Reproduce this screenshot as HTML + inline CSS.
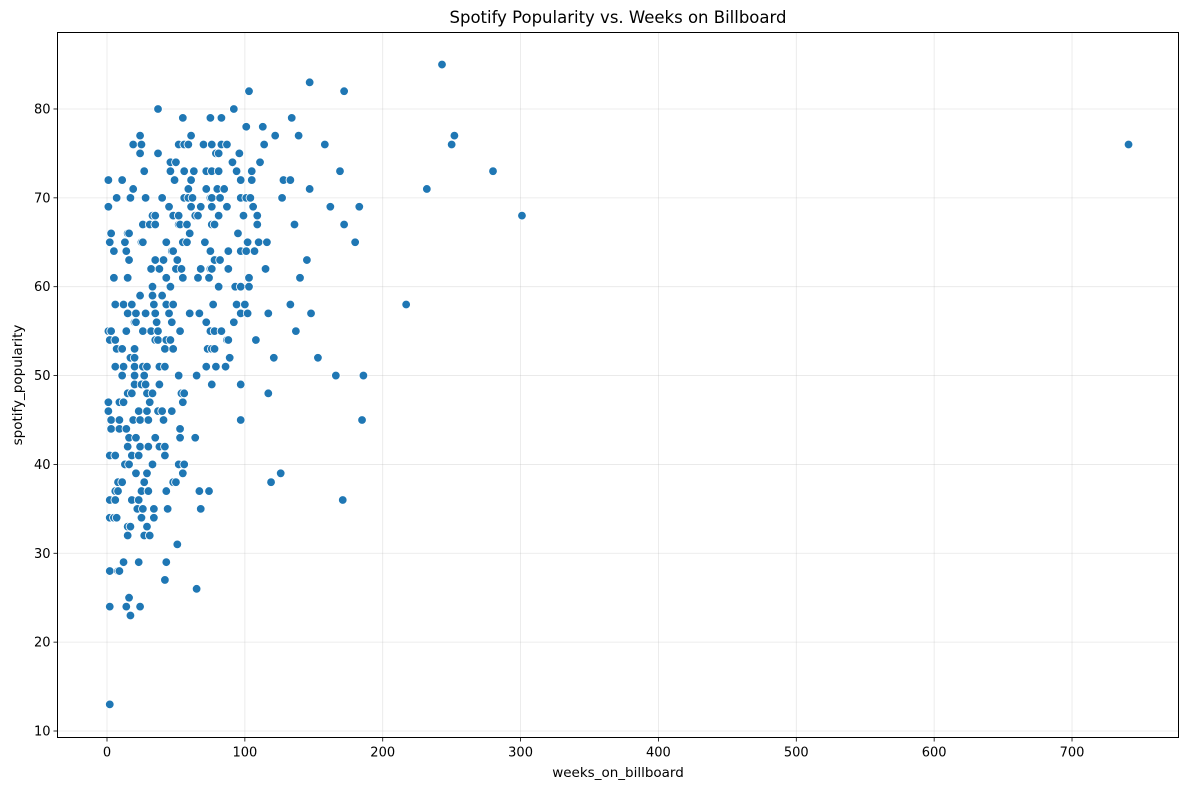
<!DOCTYPE html>
<html><head><meta charset="utf-8"><style>
body{margin:0;background:#fff;font-family:"DejaVu Sans","Liberation Sans",sans-serif}
svg text{font-family:"DejaVu Sans","Liberation Sans",sans-serif;fill:#000}
</style></head><body>
<svg id="chart" width="1189" height="790" xmlns="http://www.w3.org/2000/svg">
<rect width="1189" height="790" fill="#fff"/>
<text x="618" y="23" font-size="16.5" text-anchor="middle">Spotify Popularity vs. Weeks on Billboard</text>
<g id="grid"></g>
<g id="points"></g>
<rect x="57.5" y="32.5" width="1121" height="705" fill="none" stroke="#000" stroke-width="1"/>
<g id="ticks"></g>
<text x="618" y="777" font-size="13.5" text-anchor="middle">weeks_on_billboard</text>
<text transform="translate(22,385) rotate(-90)" font-size="13.5" text-anchor="middle">spotify_popularity</text>
</svg>
<script>
const xTicks=[0,100,200,300,400,500,600,700];
const yTicks=[10,20,30,40,50,60,70,80];
const weeks=[
103,172,
37,92,
55,75,83,134,
101,113,
24,61,122,139,
19,25,52,56,59,70,76,83,87,114,158,
24,37,79,81,96,
46,50,91,111,
27,46,56,63,72,76,81,94,105,169,
1,11,49,61,97,105,128,133,
19,59,72,80,85,147,
7,17,28,40,56,59,62,75,76,82,97,101,104,127,
1,45,61,68,76,87,106,162,183,
33,35,48,52,64,66,81,99,109,
26,31,35,52,53,58,76,78,109,136,172,
3,15,16,60,95,
2,13,25,26,43,55,58,71,102,110,116,180,
5,14,47,48,75,88,97,101,107,
16,35,41,51,78,82,145,
32,38,50,54,68,75,76,88,115,
5,15,43,55,66,74,103,140,
33,46,81,93,97,103,
24,33,40,
6,12,18,34,43,48,77,94,100,133,
15,21,28,35,45,60,67,97,102,117,148,
20,21,36,47,72,92,
1,3,14,26,32,37,53,75,78,83,137,
2,6,35,37,43,46,87,88,108,
7,11,20,42,48,73,76,78,
17,20,89,121,153,
6,12,20,26,29,38,42,72,79,86,
11,20,27,52,65,166,186,
20,25,28,38,76,97,
15,18,29,33,54,56,117,
1,9,12,31,55,
1,23,29,37,40,47,
3,9,19,24,30,41,97,185,
3,9,14,53,
16,21,35,53,64,
15,24,30,38,42,
2,6,18,23,42,
13,16,33,52,56,
21,29,55,126,
8,11,27,48,50,119,
6,8,25,30,43,67,74,
2,6,18,23,171,
22,26,34,44,68,
2,5,7,25,34,
15,17,29,
15,27,31,
51,
12,23,43,
2,8,9,
42,
65,
16,
2,14,24,
17,
2,
243,147,741,250,252,280,232,301,217
];
const popularity=[
82,82,
80,80,
79,79,79,79,
78,78,
77,77,77,77,
76,76,76,76,76,76,76,76,76,76,76,
75,75,75,75,75,
74,74,74,74,
73,73,73,73,73,73,73,73,73,73,
72,72,72,72,72,72,72,72,
71,71,71,71,71,71,
70,70,70,70,70,70,70,70,70,70,70,70,70,70,
69,69,69,69,69,69,69,69,69,
68,68,68,68,68,68,68,68,68,
67,67,67,67,67,67,67,67,67,67,67,
66,66,66,66,66,
65,65,65,65,65,65,65,65,65,65,65,65,
64,64,64,64,64,64,64,64,64,
63,63,63,63,63,63,63,
62,62,62,62,62,62,62,62,62,
61,61,61,61,61,61,61,61,
60,60,60,60,60,60,
59,59,59,
58,58,58,58,58,58,58,58,58,58,
57,57,57,57,57,57,57,57,57,57,57,
56,56,56,56,56,56,
55,55,55,55,55,55,55,55,55,55,55,
54,54,54,54,54,54,54,54,54,
53,53,53,53,53,53,53,53,
52,52,52,52,52,
51,51,51,51,51,51,51,51,51,51,
50,50,50,50,50,50,50,
49,49,49,49,49,49,
48,48,48,48,48,48,48,
47,47,47,47,47,
46,46,46,46,46,46,
45,45,45,45,45,45,45,45,
44,44,44,44,
43,43,43,43,43,
42,42,42,42,42,
41,41,41,41,41,
40,40,40,40,40,
39,39,39,39,
38,38,38,38,38,38,
37,37,37,37,37,37,37,
36,36,36,36,36,
35,35,35,35,35,
34,34,34,34,34,
33,33,33,
32,32,32,
31,
29,29,29,
28,28,28,
27,
26,
25,
24,24,24,
23,
13,
85,83,76,76,77,73,71,68,58
];
const NS='http://www.w3.org/2000/svg';
const X0=57.5,X1=1178.5,Y0=32.5,Y1=737.5;
function xs(v){return 107+v*1.3786;}
function ys(v){return 731-(v-10)*8.886;}
const grid=document.getElementById('grid'),pts=document.getElementById('points'),tk=document.getElementById('ticks');
function mk(tag,attrs,parent){const e=document.createElementNS(NS,tag);for(const k in attrs)e.setAttribute(k,attrs[k]);parent.appendChild(e);return e;}
xTicks.forEach(t=>{
  const x=xs(t);
  const g=mk('line',{x1:x,x2:x,y1:Y0,y2:Y1,stroke:'#b0b0b0','stroke-opacity':0.3,'stroke-width':0.8},grid);
  
  
  const l=mk('line',{x1:x,x2:x,y1:Y1,y2:Y1+4,stroke:'#000','stroke-width':0.8},tk);
  
  
  const tx=mk('text',{x:x,y:Y1+19,'font-size':13,'text-anchor':'middle'},tk);
  tx.textContent=t;
  
  
});
yTicks.forEach(t=>{
  const y=ys(t);
  const g=mk('line',{x1:X0,x2:X1,y1:y,y2:y,stroke:'#b0b0b0','stroke-opacity':0.3,'stroke-width':0.8},grid);
  
  
  const l=mk('line',{x1:X0-4,x2:X0,y1:y,y2:y,stroke:'#000','stroke-width':0.8},tk);
  
  
  const tx=mk('text',{x:X0-7,y:y+4.5,'font-size':13,'text-anchor':'end'},tk);
  tx.textContent=t;
  
  
});
for(let i=0;i<weeks.length&&i<popularity.length;i++){
  const c=mk('circle',{cx:xs(weeks[i]),cy:ys(popularity[i]),r:4.3,fill:'#1f77b4',stroke:'#fff','stroke-width':0.8},pts);
  
  
}
</script>
</body></html>
